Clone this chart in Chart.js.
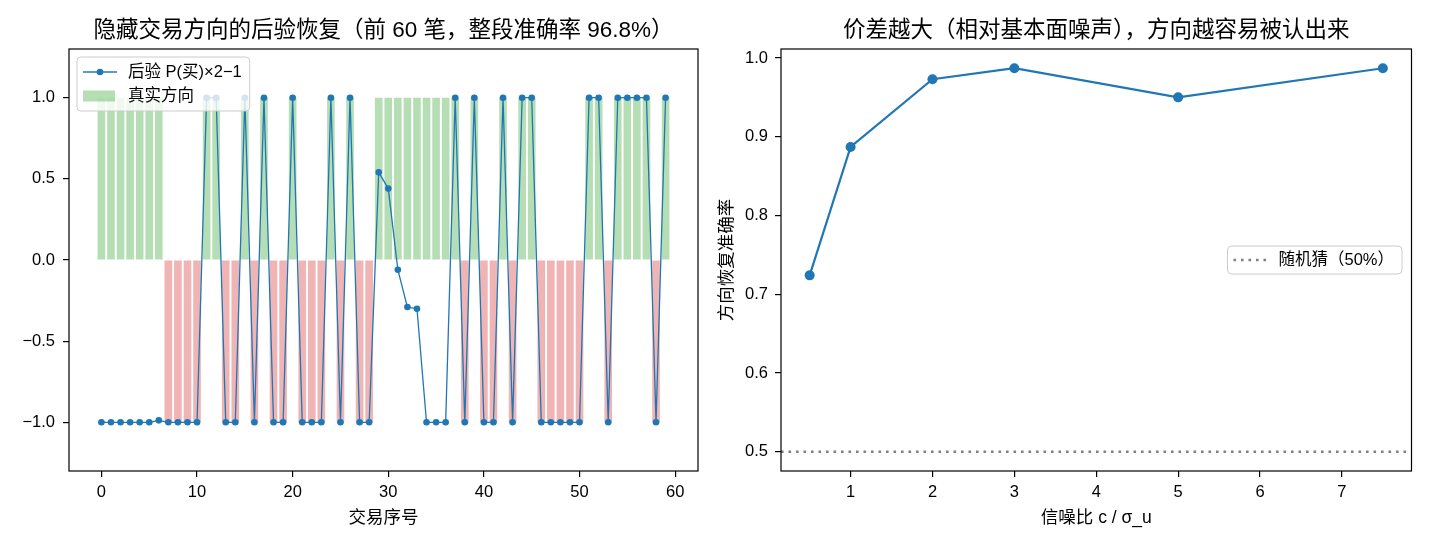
<!DOCTYPE html>
<html lang="zh">
<head>
<meta charset="UTF-8">
<title>隐藏交易方向的后验恢复</title>
<style>
  body { margin: 0; background: #fff; }
  #wrap { position: relative; width: 1430px; height: 546px; }
  canvas { position: absolute; top: 0; }
</style>
<script src="https://cdn.jsdelivr.net/npm/chart.js"></script>
</head>
<body>
<div id="wrap">
  <canvas id="left" width="715" height="546" style="left:0"></canvas>
  <canvas id="right" width="715" height="546" style="left:715px"></canvas>
</div>
<script>
// ---- left panel: first 60 trades ----
const tradeIdx = Array.from({ length: 60 }, (_, i) => i);
const trueDir = [
   1,  1,  1,  1,  1,  1,  1, -1, -1, -1,
  -1,  1,  1, -1, -1,  1, -1,  1, -1, -1,
   1, -1, -1, -1,  1, -1,  1, -1, -1,  1,
   1,  1,  1,  1,  1,  1,  1,  1, -1,  1,
  -1, -1,  1, -1,  1,  1, -1, -1, -1, -1,
  -1,  1,  1, -1,  1,  1,  1,  1, -1,  1
];
const posterior = [
  -1, -1, -1, -1, -1, -1, -0.988, -1, -1, -1,
  -1,  1,  1, -1, -1,  1, -1,  1, -1, -1,
   1, -1, -1, -1,  1, -1,  1, -1, -1, 0.54,
  0.44, -0.06, -0.29, -0.30, -1, -1, -1,  1, -1,  1,
  -1, -1,  1, -1,  1,  1, -1, -1, -1, -1,
  -1,  1,  1, -1,  1,  1,  1,  1, -1,  1
];
const xTicksLeft = [0, 10, 20, 30, 40, 50, 60];
const yTicksLeft = [-1, -0.5, 0, 0.5, 1];

// ---- right panel: accuracy vs signal-to-noise ----
const snr = [0.5, 1, 2, 3, 5, 7.5];
const accuracy = [0.724, 0.887, 0.973, 0.987, 0.950, 0.987];
const chanceLevel = 0.5;
const xTicksRight = [1, 2, 3, 4, 5, 6, 7];
const yTicksRight = [0.5, 0.6, 0.7, 0.8, 0.9, 1.0];

const FONT = '"Liberation Sans", "Noto Sans CJK SC", sans-serif';
const BLUE = '#1f77b4';
const GREEN = 'rgba(44, 160, 44, 0.35)';
const RED = 'rgba(214, 39, 40, 0.35)';
const TICK_SIZE = 16.5;
const LABEL_SIZE = 17.5;
const TITLE_SIZE = 22.5;
const LEGEND_SIZE = 16.5;

Chart.defaults.color = '#000';
Chart.defaults.font.family = FONT;

// frame, title and legend drawn on top of the data, like matplotlib
const panelDecor = {
  id: 'panelDecor',
  afterDatasetsDraw(chart, args, opts) {
    const { ctx, chartArea: a } = chart;
    ctx.save();
    ctx.strokeStyle = '#000';
    ctx.lineWidth = 1.2;
    ctx.strokeRect(a.left, a.top, a.right - a.left, a.bottom - a.top);

    ctx.fillStyle = '#000';
    ctx.font = TITLE_SIZE + 'px ' + FONT;
    ctx.textAlign = 'center';
    ctx.textBaseline = 'middle';
    ctx.fillText(opts.title, (a.left + a.right) / 2, 31);

    opts.legend(ctx, a);
    ctx.restore();
  }
};

function legendBox(ctx, x, y, w, h) {
  ctx.beginPath();
  ctx.roundRect(x, y, w, h, 4);
  ctx.fillStyle = 'rgba(255, 255, 255, 0.8)';
  ctx.fill();
  ctx.strokeStyle = '#cccccc';
  ctx.lineWidth = 1;
  ctx.stroke();
}

function axisStyle(size) {
  return {
    grid: { display: true, drawOnChartArea: false, drawTicks: true, tickLength: 6, color: '#000', lineWidth: 1.2 },
    border: { display: false },
    ticks: { font: { size: TICK_SIZE, family: FONT }, color: '#000', autoSkip: false, maxRotation: 0, padding: 7 },
    afterFit: size
  };
}

// ---------- left chart ----------
const leftX = axisStyle(s => { s.height = 75; });
leftX.type = 'linear';
leftX.min = -3.39;
leftX.max = 62.39;
leftX.offset = false;
leftX.grid.offset = false;
leftX.ticks.padding = 6;
leftX.afterBuildTicks = s => { s.ticks = xTicksLeft.map(v => ({ value: v })); };
leftX.title = { display: true, text: '交易序号', font: { size: LABEL_SIZE, family: FONT }, color: '#000', padding: { top: 0, bottom: 17.5 } };

const leftY = axisStyle(s => { s.width = 69; });
leftY.min = -1.3;
leftY.max = 1.3;
leftY.ticks.padding = 8;
leftY.ticks.callback = v => (v < 0 ? '\u2212' : '') + Math.abs(v).toFixed(1);
leftY.afterBuildTicks = s => { s.ticks = yTicksLeft.map(v => ({ value: v })); };

new Chart(document.getElementById('left'), {
  type: 'bar',
  data: {
    datasets: [
      {
        type: 'line',
        label: '后验 P(买)×2−1',
        data: tradeIdx.map((t, i) => ({ x: t, y: posterior[i] })),
        borderColor: BLUE,
        backgroundColor: BLUE,
        borderWidth: 1.3,
        pointRadius: 3.3,
        pointBorderWidth: 0,
        pointBackgroundColor: BLUE,
        tension: 0,
        order: 0
      },
      {
        type: 'bar',
        label: '真实方向',
        data: tradeIdx.map((t, i) => ({ x: t, y: trueDir[i] })),
        backgroundColor: c => trueDir[c.dataIndex] > 0 ? GREEN : RED,
        borderWidth: 0,
        barPercentage: 0.8,
        categoryPercentage: 1.0,
        order: 1
      }
    ]
  },
  options: {
    responsive: false,
    animation: false,
    events: [],
    layout: { padding: { top: 49, right: 17, left: 0, bottom: 0 } },
    scales: { x: leftX, y: leftY },
    plugins: {
      legend: { display: false },
      tooltip: { enabled: false },
      panelDecor: {
        title: '隐藏交易方向的后验恢复（前 60 笔，整段准确率 96.8%）',
        legend(ctx, a) {
          const labels = ['后验 P(买)×2−1', '真实方向'];
          ctx.font = LEGEND_SIZE + 'px ' + FONT;
          const tw = Math.max(...labels.map(t => ctx.measureText(t).width));
          const x0 = a.left + 8, y0 = a.top + 8;
          legendBox(ctx, x0, y0, 51 + tw + 8, 54);
          // line + marker handle
          const r1 = y0 + 15;
          ctx.strokeStyle = BLUE;
          ctx.lineWidth = 1.3;
          ctx.beginPath();
          ctx.moveTo(x0 + 6, r1);
          ctx.lineTo(x0 + 40, r1);
          ctx.stroke();
          ctx.fillStyle = BLUE;
          ctx.beginPath();
          ctx.arc(x0 + 23, r1, 3.3, 0, Math.PI * 2);
          ctx.fill();
          // patch handle
          const r2 = y0 + 39;
          ctx.fillStyle = GREEN;
          ctx.fillRect(x0 + 6, r2 - 5.5, 32, 11);
          ctx.fillStyle = '#000';
          ctx.textAlign = 'left';
          ctx.textBaseline = 'middle';
          ctx.fillText(labels[0], x0 + 51, r1);
          ctx.fillText(labels[1], x0 + 51, r2);
        }
      }
    }
  },
  plugins: [panelDecor]
});

// ---------- right chart ----------
const rightX = axisStyle(s => { s.height = 75; });
rightX.type = 'linear';
rightX.min = 0.15;
rightX.max = 7.85;
rightX.ticks.padding = 6;
rightX.afterBuildTicks = s => { s.ticks = xTicksRight.map(v => ({ value: v })); };
rightX.title = { display: true, text: '信噪比 c / σ_u', font: { size: LABEL_SIZE, family: FONT }, color: '#000', padding: { top: 0, bottom: 17.5 } };

const rightY = axisStyle(s => { s.width = 66; });
rightY.min = 0.4756;
rightY.max = 1.0114;
rightY.ticks.callback = v => v.toFixed(1);
rightY.afterBuildTicks = s => { s.ticks = yTicksRight.map(v => ({ value: v })); };
rightY.title = { display: true, text: '方向恢复准确率', font: { size: LABEL_SIZE, family: FONT }, color: '#000', padding: { top: 1.5, bottom: 0 } };

new Chart(document.getElementById('right'), {
  type: 'line',
  data: {
    datasets: [
      {
        label: 'accuracy',
        data: snr.map((s, i) => ({ x: s, y: accuracy[i] })),
        borderColor: BLUE,
        backgroundColor: BLUE,
        borderWidth: 2.2,
        pointRadius: 5,
        pointBorderWidth: 0,
        pointBackgroundColor: BLUE,
        tension: 0,
        order: 0
      },
      {
        label: '随机猜（50%）',
        data: [{ x: rightX.min, y: chanceLevel }, { x: rightX.max, y: chanceLevel }],
        borderColor: '#808080',
        borderWidth: 2.5,
        borderDash: [2.6, 4.9],
        pointRadius: 0,
        tension: 0,
        order: 1
      }
    ]
  },
  options: {
    responsive: false,
    animation: false,
    events: [],
    layout: { padding: { top: 49, right: 18.5, left: 0, bottom: 0 } },
    scales: { x: rightX, y: rightY },
    plugins: {
      legend: { display: false },
      tooltip: { enabled: false },
      panelDecor: {
        title: '价差越大（相对基本面噪声），方向越容易被认出来',
        legend(ctx, a) {
          const label = '随机猜（50%）';
          ctx.font = LEGEND_SIZE + 'px ' + FONT;
          const tw = ctx.measureText(label).width;
          const w = 51 + tw + 8, h = 28;
          const x0 = a.right - 9.5 - w, yc = (a.top + a.bottom) / 2;
          legendBox(ctx, x0, yc - h / 2, w, h);
          ctx.strokeStyle = '#808080';
          ctx.lineWidth = 2.5;
          ctx.setLineDash([2.6, 4.9]);
          ctx.beginPath();
          ctx.moveTo(x0 + 6, yc);
          ctx.lineTo(x0 + 40, yc);
          ctx.stroke();
          ctx.setLineDash([]);
          ctx.fillStyle = '#000';
          ctx.textAlign = 'left';
          ctx.textBaseline = 'middle';
          ctx.fillText(label, x0 + 51, yc);
        }
      }
    }
  },
  plugins: [panelDecor]
});
</script>
</body>
</html>
